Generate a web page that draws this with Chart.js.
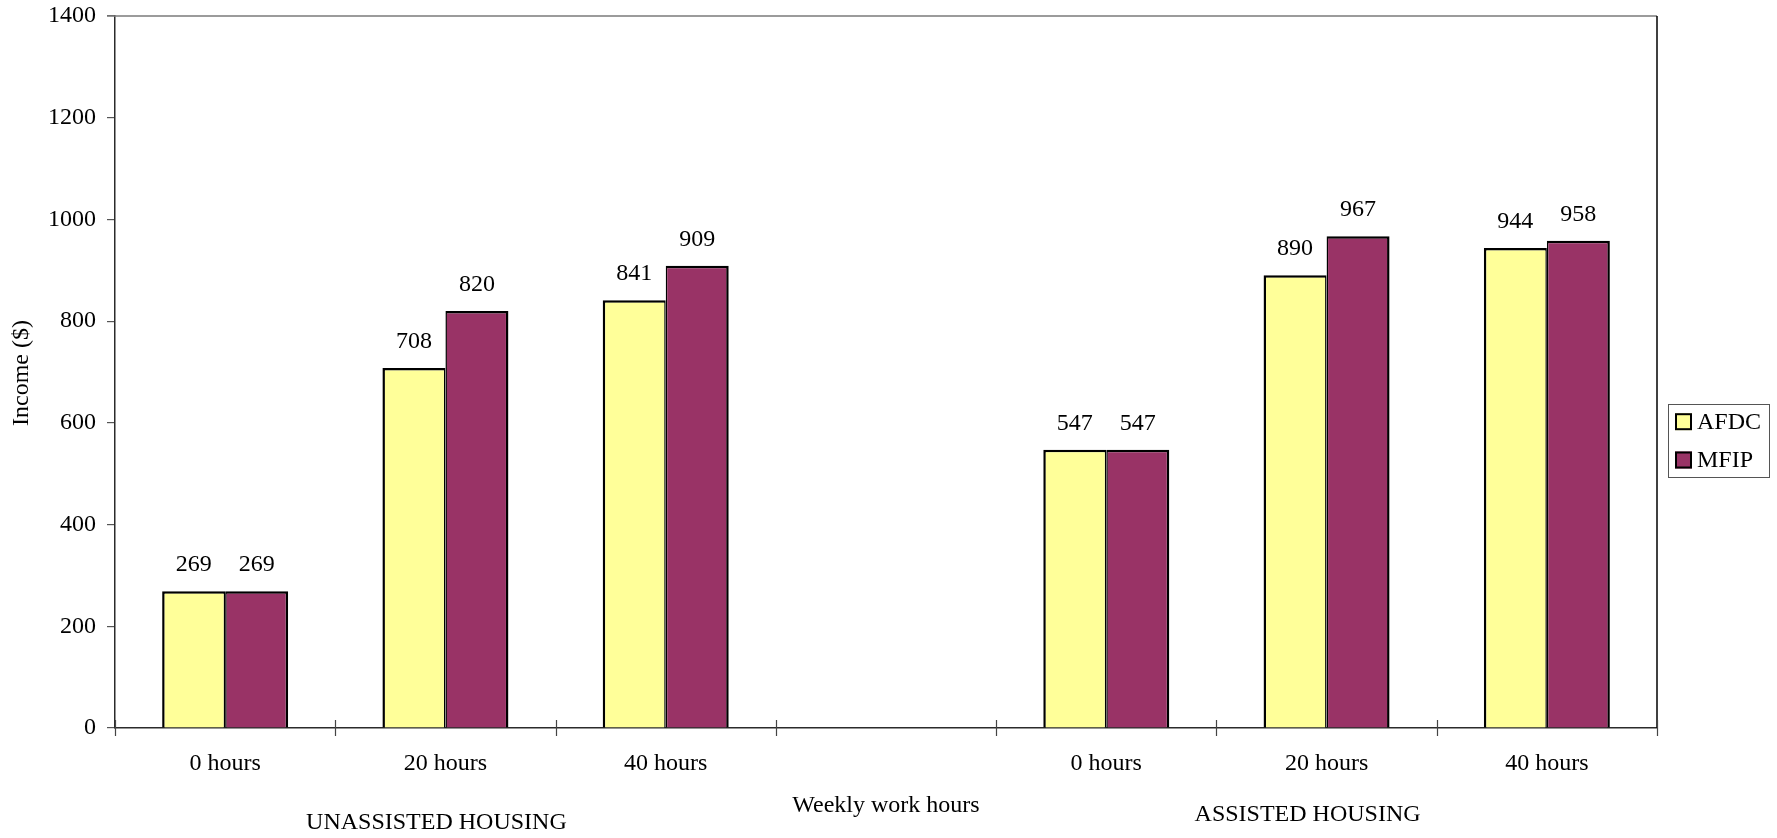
<!DOCTYPE html>
<html>
<head>
<meta charset="utf-8">
<script src="https://cdn.jsdelivr.net/npm/chart.js@4.4.1/dist/chart.umd.min.js"></script>
<style>
  html, body { margin: 0; padding: 0; background: #ffffff; overflow: hidden; }
  #wrap { width: 1777px; height: 838px; }
</style>
</head>
<body>
<div id="wrap"><canvas id="chart" width="1777" height="838"></canvas></div>
<script>
// Monthly income by weekly work hours, two housing situations
const categories = ['0 hours', '20 hours', '40 hours', '', '0 hours', '20 hours', '40 hours'];
const afdcIncome = [269, 708, 841, null, 547, 890, 944];
const mfipIncome = [269, 820, 909, null, 547, 967, 958];
const seriesNames = ['AFDC', 'MFIP'];
const yTickValues = [0, 200, 400, 600, 800, 1000, 1200, 1400];
const groupLabels = ['UNASSISTED HOUSING', 'ASSISTED HOUSING'];
const xTitle = 'Weekly work hours';
const yTitle = 'Income ($)';

const FONT = '"Liberation Serif", "Times New Roman", serif';
const AXIS = '#2b2b2b';

// Frame, crossing category ticks, value labels, titles and legend box
const decorations = {
  id: 'decorations',
  afterDraw(chart) {
    const ctx = chart.ctx;
    const area = chart.chartArea;
    const xs = chart.scales.x;
    const step = (area.right - area.left) / categories.length;
    ctx.save();

    // top and right edges of the plot area
    ctx.strokeStyle = '#7a7a7a';
    ctx.lineWidth = 1.5;
    ctx.beginPath();
    ctx.moveTo(area.left - 8, area.top);
    ctx.lineTo(area.right, area.top);
    ctx.stroke();
    ctx.strokeStyle = '#000000';
    ctx.beginPath();
    ctx.moveTo(area.right, area.top);
    ctx.lineTo(area.right, area.bottom);
    ctx.stroke();

    // category boundary ticks crossing the x axis
    ctx.strokeStyle = '#444444';
    ctx.lineWidth = 1.2;
    for (let i = 0; i <= categories.length; i++) {
      const px = Math.round(area.left + i * step) + 0.5;
      ctx.beginPath();
      ctx.moveTo(px, area.bottom - 8);
      ctx.lineTo(px, area.bottom + 8);
      ctx.stroke();
    }

    // value labels above each bar
    ctx.fillStyle = '#000000';
    ctx.font = '24px ' + FONT;
    ctx.textAlign = 'center';
    ctx.textBaseline = 'middle';
    chart.data.datasets.forEach((ds, di) => {
      const meta = chart.getDatasetMeta(di);
      meta.data.forEach((bar, i) => {
        const v = ds.data[i];
        if (v === null || v === undefined) return;
        ctx.fillText(String(v), bar.x, bar.y - 26.5);
      });
    });

    // axis titles and housing group labels
    ctx.fillText(xTitle, (area.left + area.right) / 2, 806);
    ctx.fillText(groupLabels[0], xs.getPixelForValue(1) - 9, 823);
    ctx.fillText(groupLabels[1], xs.getPixelForValue(5) - 19, 814.5);

    ctx.save();
    ctx.translate(22, (area.top + area.bottom) / 2 + 1);
    ctx.rotate(-Math.PI / 2);
    ctx.fillText(yTitle, 0, 0);
    ctx.restore();

    // legend
    const lx = area.right + 11, ly = 404, lw = 101, lh = 73;
    ctx.strokeStyle = '#555555';
    ctx.lineWidth = 1;
    ctx.strokeRect(lx + 0.5, ly + 0.5, lw, lh);
    ctx.textAlign = 'left';
    const rows = [421.7, 460];
    chart.data.datasets.forEach((ds, di) => {
      const cy = rows[di];
      ctx.fillStyle = ds.backgroundColor;
      ctx.fillRect(lx + 7, cy - 8.5, 17, 17);
      ctx.strokeStyle = '#000000';
      ctx.lineWidth = 2;
      ctx.strokeRect(lx + 8, cy - 7.5, 15, 15);
      ctx.fillStyle = '#000000';
      ctx.fillText(ds.label, lx + 29, cy + 1);
    });

    ctx.restore();
  }
};

new Chart(document.getElementById('chart'), {
  type: 'bar',
  data: {
    labels: categories,
    datasets: [
      {
        label: seriesNames[0],
        data: afdcIncome,
        backgroundColor: '#FFFF99',
        borderColor: '#000000',
        borderWidth: { top: 2.5, left: 2.5, right: 1.5, bottom: 2.5 },
        categoryPercentage: 0.572,
        barPercentage: 1.0
      },
      {
        label: seriesNames[1],
        data: mfipIncome,
        backgroundColor: '#993366',
        borderColor: '#000000',
        borderWidth: { top: 2.5, left: 1.5, right: 2.5, bottom: 2.5 },
        categoryPercentage: 0.572,
        barPercentage: 1.0
      }
    ]
  },
  options: {
    responsive: false,
    animation: false,
    devicePixelRatio: 1,
    layout: { padding: { top: 16, right: 120, left: 0, bottom: 0 } },
    plugins: {
      legend: { display: false },
      tooltip: { enabled: false },
      title: { display: false }
    },
    scales: {
      x: {
        grid: { display: false, drawTicks: false },
        border: { display: true, color: AXIS, width: 1.5 },
        ticks: {
          color: '#000000',
          font: { family: FONT, size: 24 },
          padding: 21,
          maxRotation: 0,
          autoSkip: false
        },
        afterFit(scale) { scale.height = 110; scale.paddingLeft = 0; scale.paddingRight = 0; }
      },
      y: {
        min: 0,
        max: 1400,
        afterBuildTicks(axis) { axis.ticks = yTickValues.map(v => ({ value: v })); },
        grid: { drawOnChartArea: false, drawTicks: true, tickLength: 8, color: '#555555', lineWidth: 1.2 },
        border: { display: true, color: AXIS, width: 1.5 },
        ticks: {
          color: '#000000',
          font: { family: FONT, size: 24 },
          padding: 11,
          callback: (v) => String(v)
        },
        afterFit(scale) { scale.width = 115; scale.paddingTop = 0; scale.paddingBottom = 0; }
      }
    }
  },
  plugins: [decorations]
});
</script>
</body>
</html>
